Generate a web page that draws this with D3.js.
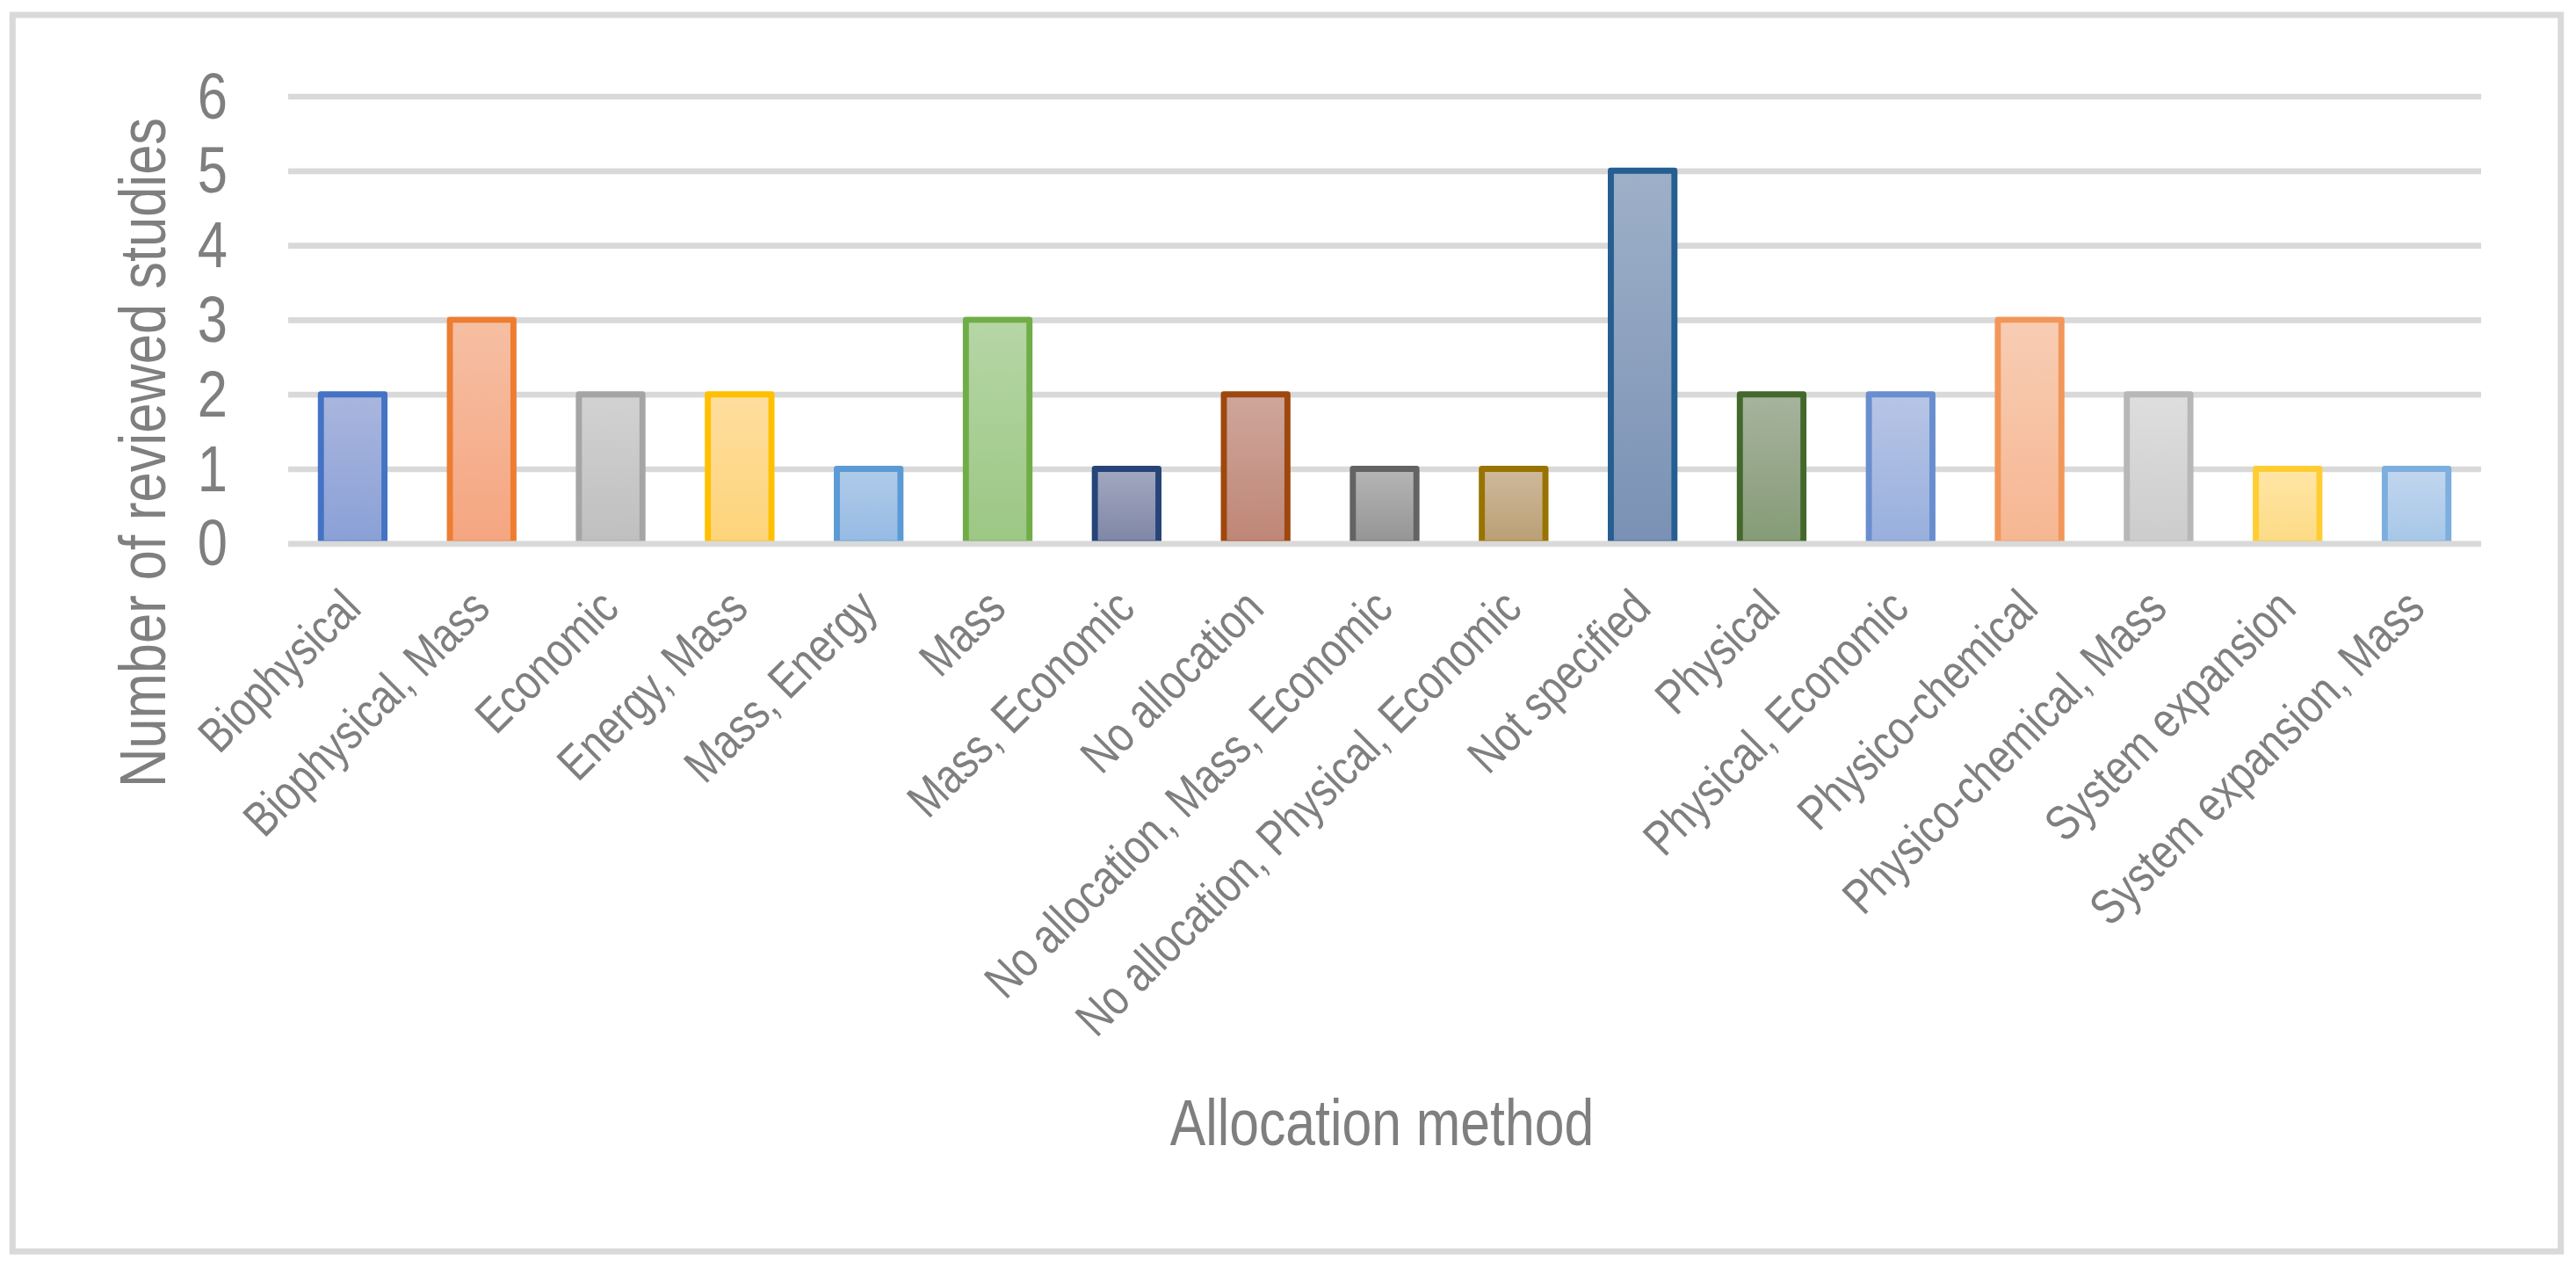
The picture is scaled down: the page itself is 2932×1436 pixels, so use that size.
<!DOCTYPE html>
<html>
<head>
<meta charset="utf-8">
<script src="https://cdn.jsdelivr.net/npm/d3@7"></script>
<style>
  html, body { margin: 0; padding: 0; background: #ffffff; }
  svg { display: block; }
</style>
</head>
<body>
<svg id="chart" width="2932" height="1436"></svg>
<script>
// ---- data ----
const categories = [
  "Biophysical", "Biophysical, Mass", "Economic", "Energy, Mass", "Mass, Energy",
  "Mass", "Mass, Economic", "No allocation", "No allocation, Mass, Economic",
  "No allocation, Physical, Economic", "Not specified", "Physical",
  "Physical, Economic", "Physico-chemical", "Physico-chemical, Mass",
  "System expansion", "System expansion, Mass"
];
const studies = [2, 3, 2, 2, 1, 3, 1, 2, 1, 1, 5, 2, 2, 3, 2, 1, 1];
const yTicks = [0, 1, 2, 3, 4, 5, 6];
const yTitle = "Number of reviewed studies";
const xTitle = "Allocation method";

// ---- styles (per-bar palette: border, gradient top, gradient bottom) ----
const borderColors = ["#4472C4","#ED7D31","#A5A5A5","#FFC000","#5B9BD5","#70AD47","#264478","#9E480E","#636363","#997300","#255E91","#43682B","#698ED0","#F1975A","#B7B7B7","#FFCD33","#7CAFDD"];
const fillTop      = ["#A9B6DE","#F6BFA3","#D2D2D2","#FEDE9F","#B0CBE9","#B6D6A6","#A2A8C0","#CEA69B","#B5B5B5","#CFB99B","#9EB0C8","#A7B39E","#B7C5E6","#F8CDB4","#DEDEDE","#FFE6A6","#C2D6EE"];
const fillBottom   = ["#8AA0D6","#F5A580","#BFBFBF","#FED47A","#95BBE4","#9CC784","#7F86A6","#BF8676","#949494","#BA9F74","#7A91B5","#859B76","#98AFDD","#F6B692","#CCCCCC","#FDDB85","#A6C7E8"];

const textColor = "#7f7f7f";
const gridColor = "#d9d9d9";
const fontFamily = "'Liberation Sans', Arial, Helvetica, sans-serif";
const narrow = 0.82;

const svg = d3.select("#chart");

// outer chart border
svg.append("rect")
  .attr("x", 14.3).attr("y", 17)
  .attr("width", 2914.7 - 14.3).attr("height", 1424 - 17)
  .attr("fill", "#ffffff")
  .attr("stroke", gridColor).attr("stroke-width", 7);

const plot = { left: 328, right: 2824, top: 109.5, bottom: 618.3 };

const x = d3.scaleBand()
  .domain(categories)
  .range([plot.left, plot.right])
  .paddingInner(0.507)
  .paddingOuter(0.2535);

const y = d3.scaleLinear()
  .domain([0, 6])
  .range([plot.bottom, plot.top]);

// gradients
const defs = svg.append("defs");
categories.forEach((c, i) => {
  const g = defs.append("linearGradient")
    .attr("id", "grad" + i)
    .attr("x1", 0).attr("y1", 0).attr("x2", 0).attr("y2", 1);
  g.append("stop").attr("offset", "0%").attr("stop-color", fillTop[i]);
  g.append("stop").attr("offset", "100%").attr("stop-color", fillBottom[i]);
});

// gridlines
const grid = svg.append("g")
  .attr("transform", `translate(${plot.left},0)`)
  .call(d3.axisLeft(y).tickValues(yTicks.filter(d => d !== 0)).tickSize(-(plot.right - plot.left)).tickFormat(""));
grid.select(".domain").remove();
grid.selectAll(".tick line").attr("stroke", gridColor).attr("stroke-width", 6.7);

// bars
svg.append("g").selectAll("rect")
  .data(categories)
  .join("rect")
  .attr("x", d => x(d))
  .attr("y", (d, i) => y(studies[i]))
  .attr("width", x.bandwidth())
  .attr("height", (d, i) => y(0) - y(studies[i]))
  .attr("fill", (d, i) => `url(#grad${i})`)
  .attr("stroke", (d, i) => borderColors[i])
  .attr("stroke-width", 6.9)
  .attr("stroke-linejoin", "round");

// baseline (zero gridline) on top of bars
const base = svg.append("g")
  .attr("transform", `translate(${plot.left},0)`)
  .call(d3.axisLeft(y).tickValues([0]).tickSize(-(plot.right - plot.left)).tickFormat(""));
base.select(".domain").remove();
base.selectAll(".tick line").attr("stroke", gridColor).attr("stroke-width", 6.7);

// y axis labels
const yAxis = svg.append("g")
  .attr("transform", `translate(${plot.left},0)`)
  .call(d3.axisLeft(y).tickValues(yTicks).tickSize(0).tickFormat(d3.format("d")));
yAxis.select(".domain").remove();
yAxis.selectAll(".tick text")
  .attr("x", 0).attr("dy", null)
  .attr("transform", `translate(-69,24.5) scale(${narrow},1)`)
  .attr("text-anchor", "end")
  .attr("fill", textColor)
  .style("font-family", fontFamily)
  .style("font-size", "75px");

// x axis labels
const xAxis = svg.append("g")
  .attr("transform", `translate(0,${plot.bottom})`)
  .call(d3.axisBottom(x).tickSize(0));
xAxis.select(".domain").remove();
xAxis.selectAll(".tick text")
  .attr("y", 0).attr("dy", null)
  .attr("transform", `translate(12,${695 - plot.bottom}) rotate(-45) scale(${narrow},1)`)
  .attr("text-anchor", "end")
  .attr("fill", textColor)
  .style("font-family", fontFamily)
  .style("font-size", "56px");

// axis titles
svg.append("text")
  .attr("transform", `translate(188,515) rotate(-90) scale(${narrow},1)`)
  .attr("text-anchor", "middle")
  .attr("fill", textColor)
  .style("font-family", fontFamily)
  .style("font-size", "75px")
  .text(yTitle);

svg.append("text")
  .attr("transform", `translate(1573,1303) scale(${narrow},1)`)
  .attr("text-anchor", "middle")
  .attr("fill", textColor)
  .style("font-family", fontFamily)
  .style("font-size", "74px")
  .text(xTitle);
</script>
</body>
</html>
